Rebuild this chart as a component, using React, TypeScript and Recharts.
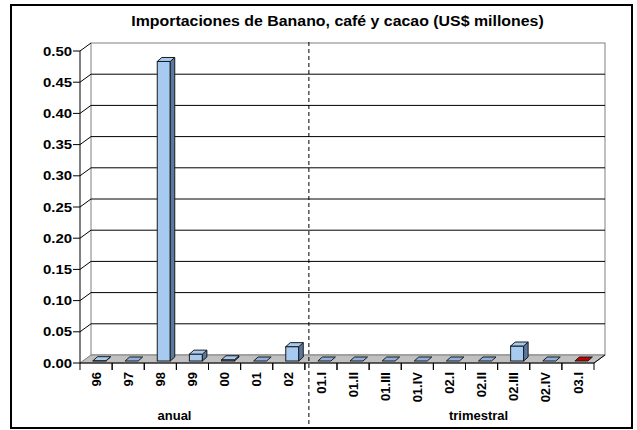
import React from "react";
import {
  BarChart,
  Bar,
  XAxis,
  YAxis,
  CartesianGrid,
  ReferenceLine,
} from "recharts";

// Periods: annual (96-02) then quarterly (01.I - 03.I)
const periods = [
  "96", "97", "98", "99", "00", "01", "02",
  "01.I", "01.II", "01.III", "01.IV", "02.I", "02.II", "02.III", "02.IV", "03.I",
];
// US$ millions
const imports = [
  0.0005, 0, 0.48, 0.011, 0.002, 0, 0.023,
  0, 0, 0, 0, 0, 0, 0.024, 0, 0,
];
const yTicks = [0, 0.05, 0.1, 0.15, 0.2, 0.25, 0.3, 0.35, 0.4, 0.45, 0.5];
const groupLabels = ["anual", "trimestral"];
const title = "Importaciones de Banano, café y cacao (US$ millones)";

const data = periods.map((period, i) => ({ period, value: imports[i] }));

const FONT = "'Liberation Sans', Arial, sans-serif";
const DX = 11; // wall depth
const DY = 8;
const BDX = 4.5; // bar depth
const BDY = 4;

const renderGridLine = (props: any) => {
  const { x1, y1, x2, y, height, index } = props;
  const w = x2 - x1;
  const isBottom =
    typeof y === "number" && typeof height === "number"
      ? Math.abs(y1 - (y + height)) < 0.5
      : index === 0;
  const isTop =
    typeof y === "number" ? Math.abs(y1 - y) < 0.5 : index === yTicks.length - 1;

  if (isBottom) {
    const top = typeof y === "number" ? y : y1 - 312;
    return (
      <g key={`g-${index}`}>
        <rect
          x={x1 + DX}
          y={top - DY}
          width={w}
          height={y1 - top}
          fill="none"
          stroke="#808080"
          strokeWidth={1}
        />
        <polygon
          points={`${x1},${y1} ${x1 + DX},${y1 - DY} ${x2 + DX},${y1 - DY} ${x2},${y1}`}
          fill="#C0C0C0"
          stroke="#808080"
          strokeWidth={1}
        />
        <line x1={x2} y1={y1} x2={x2 + DX} y2={y1 - DY} stroke="#000" />
      </g>
    );
  }
  return (
    <g key={`g-${index}`}>
      <line x1={x1} y1={y1} x2={x1 + DX} y2={y1 - DY} stroke="#000" />
      {!isTop && (
        <line x1={x1 + DX} y1={y1 - DY} x2={x2 + DX} y2={y1 - DY} stroke="#000" />
      )}
    </g>
  );
};

const Bar3D = (props: any) => {
  const { x, y, width, height, index } = props;
  const last = index === periods.length - 1;
  const fx = x + 3;
  const fy = y - 2;
  const h = Math.max(0, height);
  const front = "#A6CAF0";
  const topFill = last ? "#C00000" : h > 0 ? "#A6CAF0" : "#8FB0DA";
  const side = "#5A78A0";
  const stroke = "#1a1a1a";
  return (
    <g>
      {h > 0 && (
        <rect x={fx} y={fy} width={width} height={h} fill={front} stroke={stroke} strokeWidth={1} />
      )}
      {h > 0 && (
        <polygon
          points={`${fx + width},${fy} ${fx + width + BDX},${fy - BDY} ${fx + width + BDX},${fy + h - BDY} ${fx + width},${fy + h}`}
          fill={side}
          stroke={stroke}
          strokeWidth={1}
        />
      )}
      <polygon
        points={`${fx},${fy} ${fx + BDX},${fy - BDY} ${fx + width + BDX},${fy - BDY} ${fx + width},${fy}`}
        fill={topFill}
        stroke={stroke}
        strokeWidth={1}
      />
    </g>
  );
};

const XTick = (props: any) => {
  const { x, y, payload } = props;
  const half = payload && payload.offset ? payload.offset : 16;
  return (
    <g>
      <line x1={x - half} y1={y} x2={x - half} y2={y + 7} stroke="#000" />
      <line x1={x + half} y1={y} x2={x + half} y2={y + 7} stroke="#000" />
      <text
        x={x + 4.6}
        y={y + 9}
        transform={`rotate(-90, ${x + 4.6}, ${y + 9})`}
        textAnchor="end"
        fontFamily={FONT}
        fontWeight="bold"
        fontSize={13}
        fill="#000"
      >
        {payload.value}
      </text>
    </g>
  );
};

const YTick = (props: any) => {
  const { x, y, payload } = props;
  return (
    <g transform={`translate(${x}, ${y + 4.5}) scale(1.15, 1)`}>
      <text
        x={0}
        y={0}
        textAnchor="end"
        fontFamily={FONT}
        fontWeight="bold"
        fontSize={13}
        fill="#000"
      >
        {payload.value.toFixed(2)}
      </text>
    </g>
  );
};

const Divider = (props: any) => {
  const { x1, y1, y2 } = props;
  const top = Math.min(y1, y2);
  const bottom = Math.max(y1, y2);
  return (
    <line
      x1={x1 + 4}
      y1={top - 9}
      x2={x1 + 4}
      y2={bottom + 65}
      stroke="#000"
      strokeWidth={1}
      strokeDasharray="4 3"
    />
  );
};

export default function App() {
  return (
    <div style={{ position: "absolute", left: 0, top: 0, width: 637, height: 430, background: "#fff" }}>
      <BarChart
        width={637}
        height={430}
        data={data}
        margin={{ top: 51, right: 43, bottom: 0, left: 20 }}
        barSize={13}
      >
        <CartesianGrid vertical={false} horizontal={renderGridLine} />
        <XAxis
          dataKey="period"
          interval={0}
          height={67}
          tickSize={0}
          tickMargin={0}
          tickLine={false}
          axisLine={{ stroke: "#000", strokeWidth: 1 }}
          tick={<XTick />}
        />
        <YAxis
          domain={[0, 0.5]}
          ticks={yTicks}
          width={60}
          tickSize={7}
          tickMargin={1}
          tickLine={{ stroke: "#000" }}
          axisLine={{ stroke: "#000", strokeWidth: 1 }}
          tick={<YTick />}
          allowDataOverflow
        />
        <ReferenceLine x="02" position="end" shape={<Divider />} />
        <Bar dataKey="value" isAnimationActive={false} shape={<Bar3D />} />
      </BarChart>
      <svg
        width={637}
        height={430}
        style={{ position: "absolute", left: 0, top: 0, pointerEvents: "none" }}
      >
        <rect x={11} y={5} width={621} height={423} fill="none" stroke="#000" strokeWidth={2} />
        <g transform="translate(337.5, 26) scale(1.12, 1)">
          <text x={0} y={0} textAnchor="middle" fontFamily={FONT} fontWeight="bold" fontSize={14.2}>
            {title}
          </text>
        </g>
        <text x={174.5} y={420} textAnchor="middle" fontFamily={FONT} fontWeight="bold" fontSize={13}>
          {groupLabels[0]}
        </text>
        <text x={478.5} y={420} textAnchor="middle" fontFamily={FONT} fontWeight="bold" fontSize={13}>
          {groupLabels[1]}
        </text>
      </svg>
    </div>
  );
}
